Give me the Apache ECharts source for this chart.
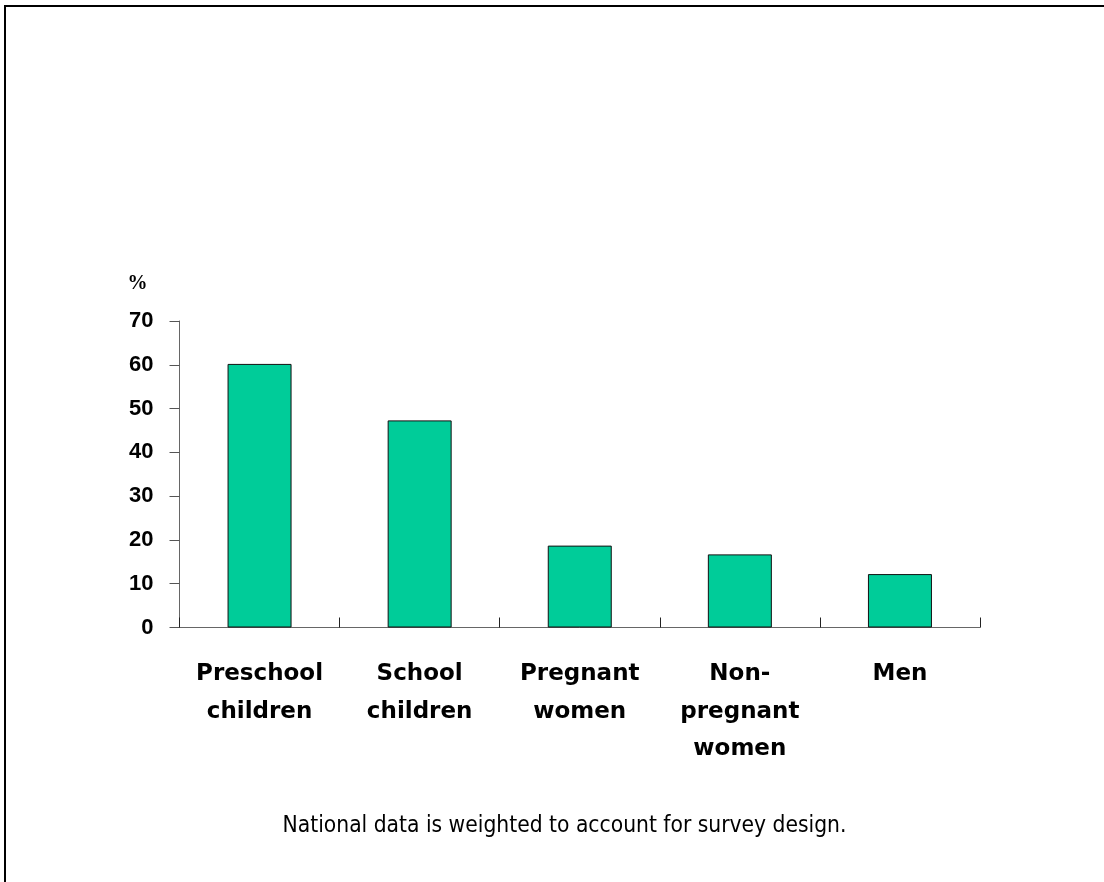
<!DOCTYPE html>
<html>
<head>
<meta charset="utf-8">
<title>Prevalence by population group</title>
<script src="https://cdn.jsdelivr.net/npm/echarts@6/dist/echarts.min.js"></script>
<style>
  html, body { margin: 0; padding: 0; background: #ffffff; }
  #chart { width: 1104px; height: 882px; }
</style>
</head>
<body>
<div id="chart"></div>
<script>
// Population groups shown along the x axis
const categories = [
  'Preschool\nchildren',
  'School\nchildren',
  'Pregnant\nwomen',
  'Non-\npregnant\nwomen',
  'Men'
];

// Percentage for each group
const percentValues = [60.2, 47.3, 18.7, 16.7, 12.2];

// Y axis scale
const yMin = 0;
const yMax = 70;
const yStep = 10;

const footnote = 'National data is weighted to account for survey design.';

const chart = echarts.init(document.getElementById('chart'), null, { renderer: 'canvas' });

chart.setOption({
  backgroundColor: '#ffffff',
  animation: false,
  grid: {
    left: 179.5,
    right: 124,
    top: 321,
    bottom: 254.5,
    containLabel: false
  },
  xAxis: {
    type: 'category',
    data: categories,
    boundaryGap: true,
    axisLine: { show: true, lineStyle: { color: '#666666', width: 1 } },
    axisTick: {
      show: true,
      inside: true,
      length: 10,
      alignWithLabel: false,
      lineStyle: { color: '#222222', width: 1 }
    },
    axisLabel: {
      margin: 28,
      interval: 0,
      color: '#000000',
      fontFamily: 'DejaVu Sans',
      fontWeight: 'bold',
      fontSize: 23,
      lineHeight: 37.5
    },
    splitLine: { show: false }
  },
  yAxis: {
    type: 'value',
    min: yMin,
    max: yMax,
    interval: yStep,
    name: '%',
    nameLocation: 'end',
    nameGap: 27,
    nameTextStyle: {
      color: '#000000',
      fontFamily: 'Liberation Serif',
      fontWeight: 'bold',
      fontSize: 20,
      align: 'right',
      verticalAlign: 'bottom',
      padding: [0, 32, 0, 0]
    },
    axisLine: { show: true, lineStyle: { color: '#666666', width: 1 } },
    axisTick: {
      show: true,
      inside: false,
      length: 10,
      lineStyle: { color: '#555555', width: 1 }
    },
    axisLabel: {
      margin: 26,
      color: '#000000',
      fontFamily: 'Liberation Sans',
      fontWeight: 'bold',
      fontSize: 22
    },
    splitLine: { show: false }
  },
  series: [{
    type: 'bar',
    data: percentValues,
    barWidth: 64,
    itemStyle: {
      color: '#00cc99',
      borderColor: '#111111',
      borderWidth: 1
    }
  }],
  graphic: [
    {
      // frame along the top and left edges
      type: 'polyline',
      silent: true,
      shape: { points: [[5, 882], [5, 6], [1104, 6]] },
      style: { stroke: '#000000', lineWidth: 2, fill: null }
    },
    {
      type: 'text',
      x: 564.5,
      y: 826,
      silent: true,
      style: {
        text: footnote,
        fill: '#000000',
        align: 'center',
        verticalAlign: 'middle',
        font: '22.6px "DejaVu Sans Condensed", "DejaVu Sans"'
      }
    }
  ]
});
</script>
</body>
</html>
